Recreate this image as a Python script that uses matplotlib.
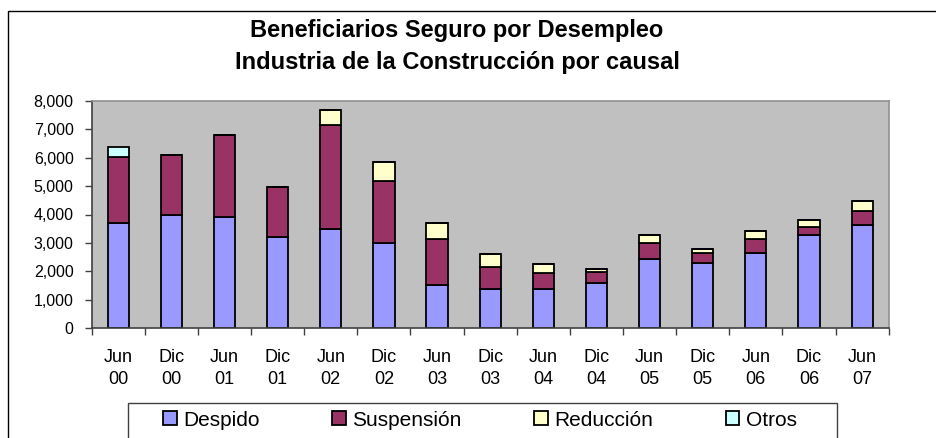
import matplotlib
matplotlib.use("Agg")
import matplotlib.pyplot as plt
from matplotlib.patches import Rectangle
from matplotlib.ticker import FuncFormatter, FixedLocator

plt.rcParams['font.family'] = ['Liberation Sans', 'DejaVu Sans']

# periodos y beneficiarios por causal
periodos = ["Jun\n00", "Dic\n00", "Jun\n01", "Dic\n01", "Jun\n02", "Dic\n02", "Jun\n03", "Dic\n03",
            "Jun\n04", "Dic\n04", "Jun\n05", "Dic\n05", "Jun\n06", "Dic\n06", "Jun\n07"]
despido = [3710, 4000, 3920, 3220, 3490, 3000, 1520, 1380, 1380, 1600, 2440, 2310, 2660, 3290, 3640]
suspension = [2310, 2100, 2890, 1760, 3660, 2190, 1630, 770, 580, 380, 560, 350, 480, 280, 480]
reduccion = [0, 0, 0, 0, 510, 640, 560, 450, 290, 120, 290, 140, 290, 220, 360]
otros = [360, 0, 0, 0, 0, 0, 0, 0, 0, 0, 0, 0, 0, 0, 0]
series = [("Despido", despido, "#9999FF"),
          ("Suspensión", suspension, "#993366"),
          ("Reducción", reduccion, "#FFFFCC"),
          ("Otros", otros, "#CCFFFF")]

W, H = 936, 438
fig = plt.figure(figsize=(W / 100, H / 100), dpi=100)
fig.patch.set_facecolor("white")

# marco del area del grafico (se sale por la derecha y abajo)
fig.add_artist(Rectangle((8 / W, -0.2), 1.2, 1.2 - 11 / H, transform=fig.transFigure,
                         fill=False, edgecolor="black", linewidth=1.0))

ax = fig.add_axes([91.7 / W, 1 - 328.3 / H, (888.7 - 91.7) / W, (328.3 - 100.7) / H])
ax.set_facecolor("#C0C0C0")

x = list(range(len(periodos)))
base = [0] * len(periodos)
handles = []
for nombre, vals, color in series:
    b = ax.bar(x, vals, width=0.4, bottom=base, color=color, edgecolor="black",
               linewidth=1.3, label=nombre)
    handles.append(b)
    base = [p + v for p, v in zip(base, vals)]

ax.set_xlim(-0.5, len(periodos) - 0.5)
ax.set_ylim(0, 8000)
ax.set_yticks(range(0, 8001, 1000))
ax.yaxis.set_major_formatter(FuncFormatter(lambda v, p: f"{int(v):,}"))
ax.set_xticks(x)
ax.set_xticklabels(periodos, fontsize=13, linespacing=1.35)
ax.xaxis.set_minor_locator(FixedLocator([i + 0.5 for i in range(-1, len(periodos))]))
ax.tick_params(axis="x", which="major", length=0, pad=15)
ax.tick_params(axis="x", which="minor", length=5, width=1, color="#404040", direction="out")
ax.tick_params(axis="y", length=5, width=1, color="#404040", direction="out", labelsize=11.5, pad=8)

for s in ["left", "bottom"]:
    ax.spines[s].set_color("#404040")
    ax.spines[s].set_linewidth(1.2)
for s in ["top", "right"]:
    ax.spines[s].set_color("#909090")
    ax.spines[s].set_linewidth(1.2)

fig.text(457 / W, 1 - 31 / H, "Beneficiarios Seguro por Desempleo", ha="center", va="center",
         fontsize=17, fontweight="bold")
fig.text(457 / W, 1 - 63 / H, "Industria de la Construcción por causal", ha="center", va="center",
         fontsize=17, fontweight="bold")

# caja de la leyenda
fig.add_artist(Rectangle((128 / W, -0.2), (837 - 128) / W, 0.2 + 1 - 403 / H, transform=fig.transFigure,
                         fill=False, edgecolor="#404040", linewidth=1.0))
fig.legend(handles=handles, loc="center left", bbox_to_anchor=(163 / W, 1 - 420 / H), ncol=4,
           frameon=False, fontsize=15, handlelength=0.65, handleheight=0.65, handletextpad=0.3,
           columnspacing=3.5, borderpad=0, borderaxespad=0)

fig.savefig("out.png", dpi=100)
